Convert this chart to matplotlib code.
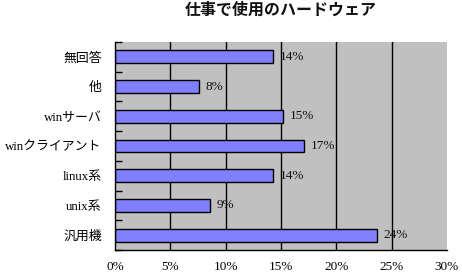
import matplotlib
matplotlib.use("Agg")
import matplotlib.pyplot as plt
from matplotlib.ticker import FixedLocator

categories = ["無回答", "他", "winサーバ", "winクライアント", "linux系", "unix系", "汎用機"]
values = [14.25, 7.55, 15.15, 17.05, 14.25, 8.55, 23.65]
value_labels = ["14%", "8%", "15%", "17%", "14%", "9%", "24%"]
xticks = [0, 5, 10, 15, 20, 25, 30]
xtick_labels = ["0%", "5%", "10%", "15%", "20%", "25%", "30%"]
title = "仕事で使用のハードウェア"

serif_cjk = ["Liberation Serif", "Noto Sans CJK JP"]

fig = plt.figure(figsize=(4.62, 2.75), dpi=100)
fig.patch.set_facecolor("white")
ax = fig.add_axes([115/462, 25/275, 332/462, 208/275])
ax.set_facecolor("#C0C0C0")

n = len(categories)
ypos = list(range(n - 1, -1, -1))
for x in xticks[1:-1]:
    ax.axvline(x, color="black", lw=1.0, zorder=1)
ax.barh(ypos, values, height=0.43, color="#8080FF", edgecolor="black", lw=1.0, zorder=2)

for y, v, lab in zip(ypos, values, value_labels):
    ax.annotate(lab, (v, y), xytext=(5, 0), textcoords="offset points",
                ha="left", va="center", fontsize=9.5, family="Liberation Serif",
                color="#111111", zorder=3)

ax.set_xlim(0, 30)
ax.set_ylim(-0.5, n - 0.5)
ax.set_xticks(xticks)
ax.set_xticklabels(xtick_labels, family="Liberation Serif", fontsize=9.5)
ax.tick_params(axis="x", length=0, pad=8)
ax.set_yticks(ypos)
ax.set_yticklabels(categories, fontsize=9.3)
for t in ax.get_yticklabels():
    t.set_family(serif_cjk)
ax.tick_params(axis="y", length=0, pad=9.5)
ax.yaxis.set_minor_locator(FixedLocator([i - 0.5 for i in range(n + 1)]))
ax.tick_params(axis="y", which="minor", direction="in", length=5, width=1, color="black")

for s in ["top", "right"]:
    ax.spines[s].set_visible(False)
for s in ["left", "bottom"]:
    ax.spines[s].set_color("black")
    ax.spines[s].set_linewidth(1.0)

fig.text((115 + 447) / 2 / 462, 1 - 10 / 275, title, ha="center", va="center",
         fontsize=11.5, fontweight="bold", family=["Noto Sans CJK JP", "DejaVu Sans"],
         color="#111111")

fig.savefig("out.png", dpi=100)
